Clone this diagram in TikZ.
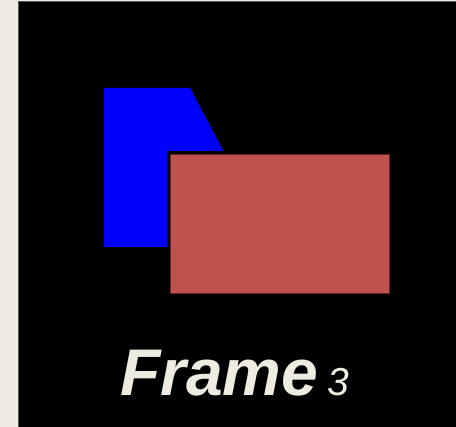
\documentclass[tikz,border=0pt]{standalone}
\usepackage{fontspec}
\setmainfont{Liberation Sans}
\definecolor{bgbeige}{HTML}{EEEBE0}
\definecolor{boxred}{HTML}{C0504D}
\definecolor{boxblue}{HTML}{0000FF}
\begin{document}
\begin{tikzpicture}[x=1pt,y=-1pt]
\useasboundingbox (0,0) rectangle (456,427);
\fill[bgbeige] (0,0) rectangle (456,427);
\fill[black!65] (17.5,1.5) rectangle (456,427);
\fill[black] (18.5,2.5) rectangle (456,427);
\fill[boxblue] (104,88) -- (190,88) -- (226,156) -- (226,247) -- (104,247) -- cycle;
\draw[black, line width=3pt, fill=boxred] (168.5,152.5) rectangle (390.5,294.5);
\draw[boxred!50!black, line width=0.8pt] (170.2,154.2) rectangle (389,293);
\node[anchor=base west, inner sep=0pt, text=bgbeige] (title) at (120,396)
  {\fontsize{66}{66}\selectfont\bfseries\itshape Frame};
\node[anchor=base west, inner sep=0pt, text=bgbeige] (num) at (327,396)
  {\fontsize{39}{39}\selectfont\itshape 3};
\end{tikzpicture}
\end{document}
